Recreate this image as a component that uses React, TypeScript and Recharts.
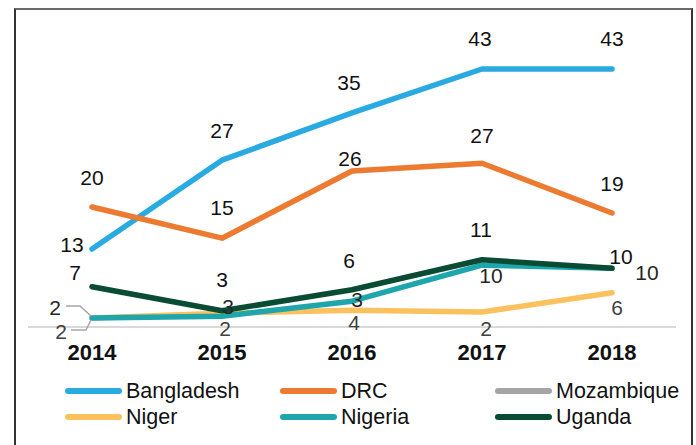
import React from 'react';
import { LineChart, Line, XAxis, YAxis, LabelList } from 'recharts';

const years = ['2014', '2015', '2016', '2017', '2018'];

const bangladesh = [13, 27.8, 35.7, 43, 43];
const drc = [20, 14.8, 26, 27.3, 19];
const mozambique: (number | null)[] = [null, null, null, null, null];
const niger = [1.5, 2.3, 2.8, 2.5, 5.7];
const nigeria = [1.5, 1.8, 4.3, 10.3, 9.8];
const uganda = [6.7, 2.7, 6.2, 11.2, 9.8];

const bangladeshLabels = ['13', '27', '35', '43', '43'];
const drcLabels = ['20', '15', '26', '27', '19'];
const mozambiqueLabels: string[] = [];
const nigerLabels = ['2', '2', '4', '2', '6'];
const nigeriaLabels = ['2', '3', '3', '10', '10'];
const ugandaLabels = ['7', '3', '6', '11', '10'];

type Series = {
  key: string;
  values: (number | null)[];
  labels: string[];
  color: string;
  labelColor: string;
  offsets: [number, number][];
  leaders?: Record<number, [number, number][]>;
};

const series: Series[] = [
  {
    key: 'Bangladesh', values: bangladesh, labels: bangladeshLabels, color: '#29ABE2', labelColor: '#111',
    offsets: [[-20, -5], [0, -30], [-3, -30], [-2, -31], [0, -31]],
  },
  {
    key: 'DRC', values: drc, labels: drcLabels, color: '#EC7A30', labelColor: '#111',
    offsets: [[0, -30], [0, -31], [-2, -13], [0, -28], [0, -30]],
  },
  {
    key: 'Mozambique', values: mozambique, labels: mozambiqueLabels, color: '#A5A5A5', labelColor: '#404040',
    offsets: [],
  },
  {
    key: 'Niger', values: niger, labels: nigerLabels, color: '#FBC15E', labelColor: '#404040',
    offsets: [[-31, 13], [3, 15], [2, 12], [4, 16], [5, 15]],
    leaders: { 0: [[-21, 12], [-6, 12], [-1, 2]] },
  },
  {
    key: 'Nigeria', values: nigeria, labels: nigeriaLabels, color: '#1EA6AC', labelColor: '#262626',
    offsets: [[-37, -11], [6, -10], [5, -2], [9, 10], [35, 4]],
    leaders: { 0: [[-26, -12], [-12, -12], [-1, -2]] },
  },
  {
    key: 'Uganda', values: uganda, labels: ugandaLabels, color: '#0A4B33', labelColor: '#111',
    offsets: [[-17, -14], [0, -31], [-3, -29], [-1, -30], [9, -12]],
  },
];

const data = years.map((year, i) => {
  const row: Record<string, any> = { year };
  series.forEach((s) => { row[s.key] = s.values[i]; });
  return row;
});

const FONT = 'Liberation Sans, Arial, Helvetica, sans-serif';

const makeLabel = (s: Series) => (p: any) => {
  const idx = p.index;
  const text = s.labels[idx];
  if (text === undefined || p.x == null || p.y == null) return null;
  const [dx, dy] = s.offsets[idx] || [0, 0];
  const leader = s.leaders && s.leaders[idx];
  return (
    <g>
      {leader ? (
        <polyline
          points={leader.map(([lx, ly]) => `${p.x + lx},${p.y + ly}`).join(' ')}
          fill="none"
          stroke="#A6A6A6"
          strokeWidth={1.5}
        />
      ) : null}
      <text
        x={p.x + dx}
        y={p.y + dy + 7.5}
        textAnchor="middle"
        fontFamily={FONT}
        fontSize={21}
        fill={s.labelColor}
      >
        {text}
      </text>
    </g>
  );
};

const YearTick = (props: any) => {
  const { x, y, payload } = props;
  return (
    <text x={x} y={y + 33} textAnchor="middle" fontFamily={FONT} fontSize={22} fontWeight="bold" fill="#111">
      {payload.value}
    </text>
  );
};

const legendCols = [65, 280, 495];
const legendRows = [391, 417];

export default function App() {
  return (
    <div style={{ position: 'relative', width: 696, height: 445, overflow: 'hidden', background: '#fff' }}>
      <style>{`body{margin:0;}`}</style>
      <div
        style={{
          position: 'absolute', left: 14, top: 8, width: 679, height: 460,
          borderTop: '2px solid #6b6b6b', borderLeft: '2px solid #333', borderRight: '2px solid #333',
          boxSizing: 'border-box',
        }}
      />
      <div style={{ position: 'absolute', left: 0, top: 0 }}>
        <LineChart width={696} height={445} data={data} margin={{ top: 39, right: 20, bottom: 78, left: 28 }}>
          <XAxis
            dataKey="year"
            axisLine={{ stroke: '#D9D9D9', strokeWidth: 2 }}
            tickLine={false}
            tickSize={0}
            tickMargin={0}
            padding={{ left: 64, right: 64 }}
            interval={0}
            height={40}
            tick={<YearTick />}
          />
          <YAxis hide domain={[0, 48]} />
          {series.map((s) => (
            <Line
              key={s.key}
              dataKey={s.key}
              stroke={s.color}
              strokeWidth={5.5}
              strokeLinecap="round"
              strokeLinejoin="round"
              dot={false}
              activeDot={false}
              isAnimationActive={false}
            />
          ))}
          {series.map((s) => (
            <Line
              key={s.key + '-labels'}
              dataKey={s.key}
              stroke="none"
              dot={false}
              activeDot={false}
              legendType="none"
              isAnimationActive={false}
            >
              <LabelList dataKey={s.key} content={makeLabel(s)} />
            </Line>
          ))}
        </LineChart>
      </div>
      {series.map((s, i) => {
        const col = legendCols[i % 3];
        const row = legendRows[Math.floor(i / 3)];
        return (
          <div key={s.key} style={{ position: 'absolute', left: col, top: row - 13, height: 26, display: 'flex', alignItems: 'center' }}>
            <div style={{ width: 57, height: 6, borderRadius: 3, background: s.color }} />
            <span style={{ marginLeft: 4, fontFamily: FONT, fontSize: 21.5, color: '#111', lineHeight: '26px' }}>{s.key}</span>
          </div>
        );
      })}
    </div>
  );
}
